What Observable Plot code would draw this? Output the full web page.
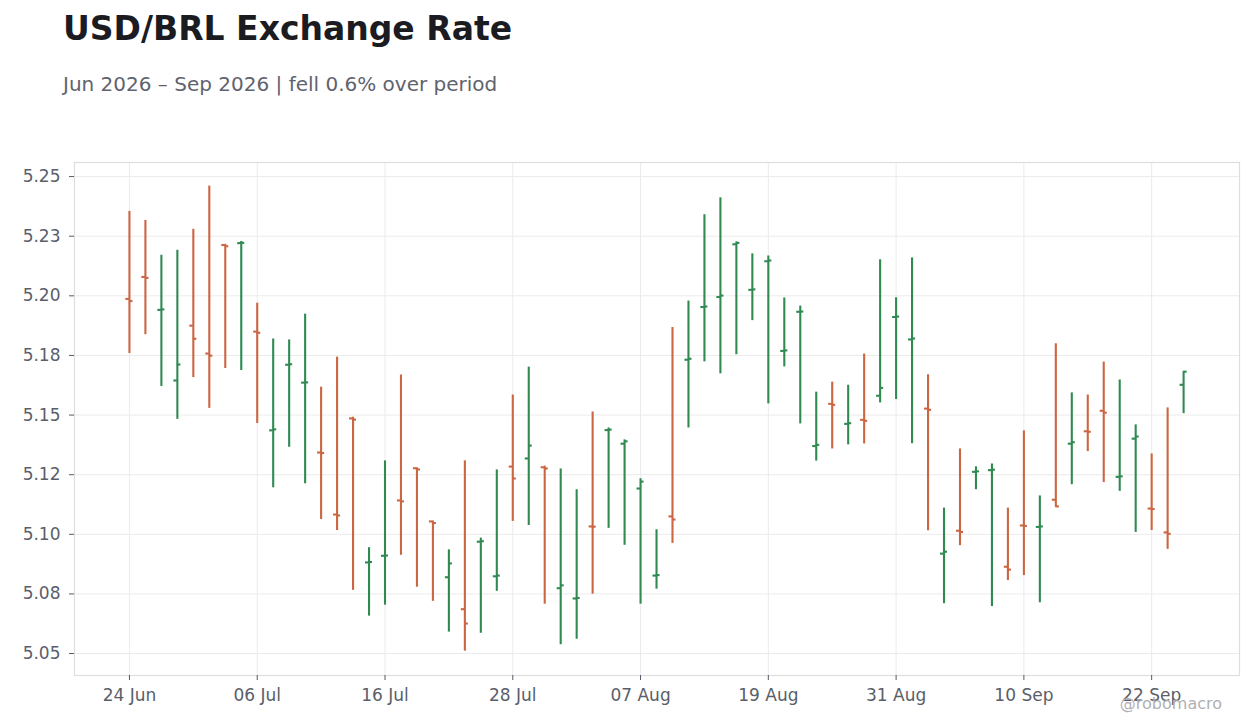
<!DOCTYPE html>
<html>
<head>
<meta charset="utf-8">
<script src="https://cdn.jsdelivr.net/npm/d3@7"></script>
<script src="https://cdn.jsdelivr.net/npm/@observablehq/plot@0.6"></script>
<style>
  html, body { margin: 0; padding: 0; background: #ffffff; }
  #wrap { position: relative; width: 1260px; height: 728px; font-family: "DejaVu Sans", sans-serif; }
  #head { position: relative; height: 110px; }
  #title { position: absolute; left: 63px; top: 12px; font-size: 33px; line-height: 1; font-weight: bold; color: #1b1b22; white-space: nowrap; }
  #subtitle { position: absolute; left: 63px; top: 74px; font-size: 20px; line-height: 1; color: #5f636d; white-space: nowrap; }
  #credit { position: absolute; right: 38px; top: 696px; font-size: 16px; line-height: 1; color: #b0b0b4; white-space: nowrap; }
  svg { display: block; }
</style>
</head>
<body>
<div id="wrap">
  <div id="head">
    <div id="title">USD/BRL Exchange Rate</div>
    <div id="subtitle">Jun 2026 – Sep 2026 | fell 0.6% over period</div>
  </div>
  <div id="chart"></div>
  <div id="credit">@robomacro</div>
</div>
<script>
// Business-day index 0..66 (24 Jun 2026 – 24 Sep 2026)
const opens = [
  5.1987, 5.2079, 5.1941, 5.1645, 5.1875, 5.1758, 5.2213, 5.2221, 5.1850, 5.1436,
  5.1711, 5.1636, 5.1343, 5.1083, 5.1486, 5.0882, 5.0910, 5.1142, 5.1277, 5.1054,
  5.0820, 5.0686, 5.0969, 5.0824, 5.1284, 5.1318, 5.1281, 5.0774, 5.0731, 5.1033,
  5.1437, 5.1380, 5.1192, 5.0827, 5.1075, 5.1732, 5.1953, 5.1995, 5.2216, 5.2025,
  5.2145, 5.1769, 5.1933, 5.1370, 5.1547, 5.1463, 5.1480, 5.1581, 5.1911, 5.1817,
  5.1527, 5.0919, 5.1015, 5.1262, 5.1269, 5.0864, 5.1037, 5.1031, 5.1145, 5.1380,
  5.1432, 5.1518, 5.1241, 5.1401, 5.1108, 5.1008, 5.1627
];
const highs = [
  5.2354, 5.2316, 5.2170, 5.2191, 5.2279, 5.2460, 5.2216, 5.2228, 5.1969, 5.1819,
  5.1815, 5.1923, 5.1617, 5.1743, 5.1491, 5.0944, 5.1308, 5.1668, 5.1279, 5.1056,
  5.0935, 5.1308, 5.0984, 5.1270, 5.1584, 5.1701, 5.1286, 5.1274, 5.1187, 5.1513,
  5.1446, 5.1396, 5.1233, 5.1019, 5.1867, 5.1978, 5.2340, 5.2411, 5.2226, 5.2176,
  5.2167, 5.1991, 5.1957, 5.1596, 5.1638, 5.1625, 5.1756, 5.2151, 5.1992, 5.2159,
  5.1669, 5.1110, 5.1358, 5.1283, 5.1295, 5.1110, 5.1434, 5.1161, 5.1799, 5.1593,
  5.1584, 5.1722, 5.1647, 5.1459, 5.1337, 5.1530, 5.1682
];
const lows = [
  5.1758, 5.1837, 5.1620, 5.1482, 5.1657, 5.1528, 5.1695, 5.1687, 5.1465, 5.1195,
  5.1365, 5.1212, 5.1062, 5.1016, 5.0765, 5.0657, 5.0703, 5.0912, 5.0778, 5.0719,
  5.0590, 5.0510, 5.0585, 5.0761, 5.1054, 5.1037, 5.0707, 5.0537, 5.0560, 5.0749,
  5.1025, 5.0954, 5.0707, 5.0770, 5.0962, 5.1446, 5.1723, 5.1673, 5.1753, 5.1896,
  5.1547, 5.1702, 5.1463, 5.1307, 5.1358, 5.1375, 5.1379, 5.1551, 5.1565, 5.1380,
  5.1015, 5.0709, 5.0952, 5.1187, 5.0697, 5.0806, 5.0827, 5.0713, 5.1114, 5.1208,
  5.1347, 5.1217, 5.1180, 5.1008, 5.1016, 5.0937, 5.1506
];
const closes = [
  5.1978, 5.2075, 5.1943, 5.1712, 5.1820, 5.1749, 5.2208, 5.2222, 5.1845, 5.1440,
  5.1713, 5.1637, 5.1341, 5.1079, 5.1481, 5.0884, 5.0911, 5.1138, 5.1272, 5.1047,
  5.0878, 5.0626, 5.0971, 5.0827, 5.1234, 5.1372, 5.1276, 5.0786, 5.0733, 5.1032,
  5.1439, 5.1390, 5.1221, 5.0829, 5.1062, 5.1736, 5.1955, 5.2001, 5.2222, 5.2027,
  5.2148, 5.1771, 5.1934, 5.1375, 5.1543, 5.1466, 5.1476, 5.1614, 5.1913, 5.1821,
  5.1522, 5.0927, 5.1010, 5.1264, 5.1271, 5.0852, 5.1035, 5.1033, 5.1117, 5.1386,
  5.1430, 5.1510, 5.1243, 5.1410, 5.1106, 5.1002, 5.1682
];

const xTickIndex = [0, 8, 16, 24, 32, 40, 48, 56, 64];
const xTickLabels = ["24 Jun", "06 Jul", "16 Jul", "28 Jul", "07 Aug", "19 Aug", "31 Aug", "10 Sep", "22 Sep"];
const yTickValues = [5.05, 5.075, 5.10, 5.125, 5.15, 5.175, 5.20, 5.225, 5.25];
const yTickLabels = ["5.05", "5.08", "5.10", "5.12", "5.15", "5.18", "5.20", "5.23", "5.25"];

const UP = "#2f8a52";
const DOWN = "#cc6542";
const TICK = 0.22; // open/close tick length in bar-index units

const bars = opens.map((o, i) => ({
  i, open: o, high: highs[i], low: lows[i], close: closes[i],
  color: closes[i] >= o ? UP : DOWN
}));

const chart = Plot.plot({
  width: 1260,
  height: 618,
  marginLeft: 74,
  marginRight: 21,
  marginTop: 52,
  marginBottom: 53,
  style: { fontFamily: "DejaVu Sans, sans-serif", fontSize: "17px", color: "#5a5e69", background: "#ffffff" },
  x: { type: "linear", domain: [-3.44, 69.5] },
  y: { type: "linear", domain: [5.0408, 5.2559] },
  marks: [
    Plot.gridX(xTickIndex, { stroke: "#ebebeb", strokeOpacity: 1 }),
    Plot.gridY(yTickValues, { stroke: "#ebebeb", strokeOpacity: 1 }),
    Plot.frame({ stroke: "#dedede", strokeWidth: 1.2 }),
    Plot.axisX({ ticks: xTickIndex, tickFormat: (d) => xTickLabels[xTickIndex.indexOf(d)], tickSize: 5, tickPadding: 8, stroke: "#555a66", label: null }),
    Plot.axisY({ ticks: yTickValues, tickFormat: (d) => yTickLabels[yTickValues.indexOf(d)], tickSize: 5, tickPadding: 9, stroke: "#555a66", label: null }),
    Plot.ruleX(bars, { x: "i", y1: "low", y2: "high", stroke: "color", strokeWidth: 2.1 }),
    Plot.ruleY(bars, { y: "open", x1: (d) => d.i - TICK, x2: "i", stroke: "color", strokeWidth: 2.1 }),
    Plot.ruleY(bars, { y: "close", x1: "i", x2: (d) => d.i + TICK, stroke: "color", strokeWidth: 2.1 })
  ]
});
document.getElementById("chart").appendChild(chart);
</script>
</body>
</html>
